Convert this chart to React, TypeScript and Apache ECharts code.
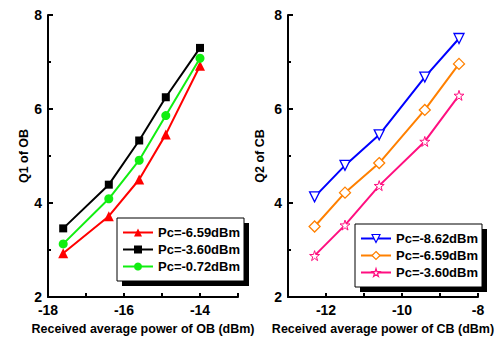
import React, { useEffect, useRef } from "react";
import * as echarts from "echarts";

const obX = [-17.6, -16.4, -15.6, -14.9, -14.0];
const obPcM659 = [2.93, 3.72, 4.5, 5.46, 6.92];
const obPcM360 = [3.46, 4.39, 5.33, 6.25, 7.3];
const obPcM072 = [3.13, 4.09, 4.91, 5.86, 7.08];

const cbX = [-12.3, -11.5, -10.6, -9.4, -8.5];
const cbPcM862 = [4.13, 4.8, 5.45, 6.68, 7.5];
const cbPcM659 = [3.5, 4.22, 4.85, 5.98, 6.96];
const cbPcM360 = [2.88, 3.53, 4.37, 5.31, 6.29];

const obNames = ["Pc=-6.59dBm", "Pc=-3.60dBm", "Pc=-0.72dBm"];
const cbNames = ["Pc=-8.62dBm", "Pc=-6.59dBm", "Pc=-3.60dBm"];
const cbColors = ["#0000ff", "#ff8000", "#ff0f80"];

const STAR = "path://M50,0 L61,35 L98,35 L68,57 L79,91 L50,70 L21,91 L32,57 L2,35 L39,35 Z";
const FONT = "Arial, 'Liberation Sans', sans-serif";

function pairs(xs: number[], ys: number[]) {
  return xs.map((x, i) => [x, ys[i]]);
}

export default function App() {
  const ref = useRef<HTMLDivElement>(null);
  useEffect(() => {
    document.body.style.margin = "0";
    const chart = echarts.init(ref.current!, null, { renderer: "svg" });
    const axisLine = { show: true, lineStyle: { color: "#000", width: 2 } };
    const yAxisBase = (gridIndex: number, name: string, gap: number) => ({
      type: "value",
      gridIndex,
      min: 2,
      max: 8,
      interval: 2,
      name,
      nameLocation: "middle",
      nameGap: gap,
      nameTextStyle: { fontFamily: FONT, fontWeight: "bold", fontSize: 12.5, color: "#000" },
      axisLine,
      axisTick: { show: true, inside: true, length: 5, lineStyle: { color: "#000", width: 2 } },
      minorTick: { show: true, splitNumber: 2, length: 3, lineStyle: { color: "#000", width: 2 } },
      splitLine: { show: false },
      axisLabel: { fontFamily: FONT, fontWeight: "bold", fontSize: 14, color: "#000", margin: 6 },
    });
    const xAxisBase = (gridIndex: number, name: string, min: number, max: number) => ({
      type: "value",
      gridIndex,
      min,
      max,
      interval: 1,
      name,
      nameLocation: "middle",
      nameGap: 25,
      nameTextStyle: { fontFamily: FONT, fontWeight: "bold", fontSize: 12.5, color: "#000" },
      axisLine,
      axisTick: { show: true, inside: true, length: 4, lineStyle: { color: "#000", width: 2 } },
      splitLine: { show: false },
      axisLabel: {
        fontFamily: FONT,
        fontWeight: "bold",
        fontSize: 14,
        color: "#000",
        margin: 6,
        formatter: (v: number) => (Math.round(v) % 2 === 0 ? String(v) : ""),
      },
    });
    const legendBase = (left: number, top: number, data: any[]) => ({
      orient: "vertical",
      left,
      top,
      data,
      itemWidth: 30,
      itemHeight: 10,
      itemGap: 4,
      padding: [8, 5, 8, 5],
      z: 10,
      formatter: (n: string) => n.split("|")[1],
      textStyle: { fontFamily: FONT, fontWeight: "bold", fontSize: 13, color: "#000" },
      selectedMode: false,
    });
    const box = (x: number, y: number, w: number, h: number) => [
      {
        type: "rect",
        z: 5,
        shape: { x: x + 5, y: y + 5, width: w, height: h },
        style: { fill: "#000" },
      },
      {
        type: "rect",
        z: 6,
        shape: { x, y, width: w, height: h },
        style: { fill: "#fff", stroke: "#000", lineWidth: 1 },
      },
    ];
    const line = (
      name: string,
      idx: number,
      data: number[][],
      color: string,
      symbol: string,
      size: number,
      hollow: boolean,
      rotate = 0,
      bw = 1.3
    ) => ({
      type: "line",
      name,
      xAxisIndex: idx,
      yAxisIndex: idx,
      data,
      symbol,
      symbolSize: size,
      symbolRotate: rotate,
      lineStyle: { color, width: 2 },
      itemStyle: hollow
        ? { color: "#fff", borderColor: color, borderWidth: bw }
        : { color, borderColor: color, borderWidth: 0 },
    });
    const obL = obNames.map((n) => "OB|" + n);
    const cbL = cbNames.map((n) => "CB|" + n);
    const cbLegend = cbL.map((n, i) => ({
      name: n,
      itemStyle: { color: "#fff", borderColor: cbColors[i], borderWidth: 1.2 },
    }));
    chart.setOption({
      animation: false,
      backgroundColor: "#fff",
      grid: [
        { left: 48, top: 15, width: 190, height: 283 },
        { left: 288, top: 15, width: 190, height: 283 },
      ],
      xAxis: [
        xAxisBase(0, "Received average power of OB (dBm)", -18, -13),
        xAxisBase(1, "Received average power of CB (dBm)", -13, -8),
      ],
      yAxis: [yAxisBase(0, "Q1 of OB", 15), yAxisBase(1, "Q2 of CB", 22)],
      legend: [legendBase(117, 218, obL), legendBase(355, 224, cbLegend)],
      graphic: [...box(117, 218, 127, 63), ...box(355, 224, 127, 63)],
      series: [
        line(obL[0], 0, pairs(obX, obPcM659), "#ff0000", "triangle", 10, false),
        line(obL[1], 0, pairs(obX, obPcM360), "#000000", "rect", 8, false),
        line(obL[2], 0, pairs(obX, obPcM072), "#11ee11", "circle", 9, false),
        line(cbL[0], 1, pairs(cbX, cbPcM862), cbColors[0], "triangle", 10, true, 180),
        line(cbL[1], 1, pairs(cbX, cbPcM659), cbColors[1], "diamond", 11, true),
        line(cbL[2], 1, pairs(cbX, cbPcM360), cbColors[2], STAR, 10, true, 0, 1),
      ],
    });
    return () => chart.dispose();
  }, []);
  return <div ref={ref} style={{ width: 499, height: 340 }} />;
}
